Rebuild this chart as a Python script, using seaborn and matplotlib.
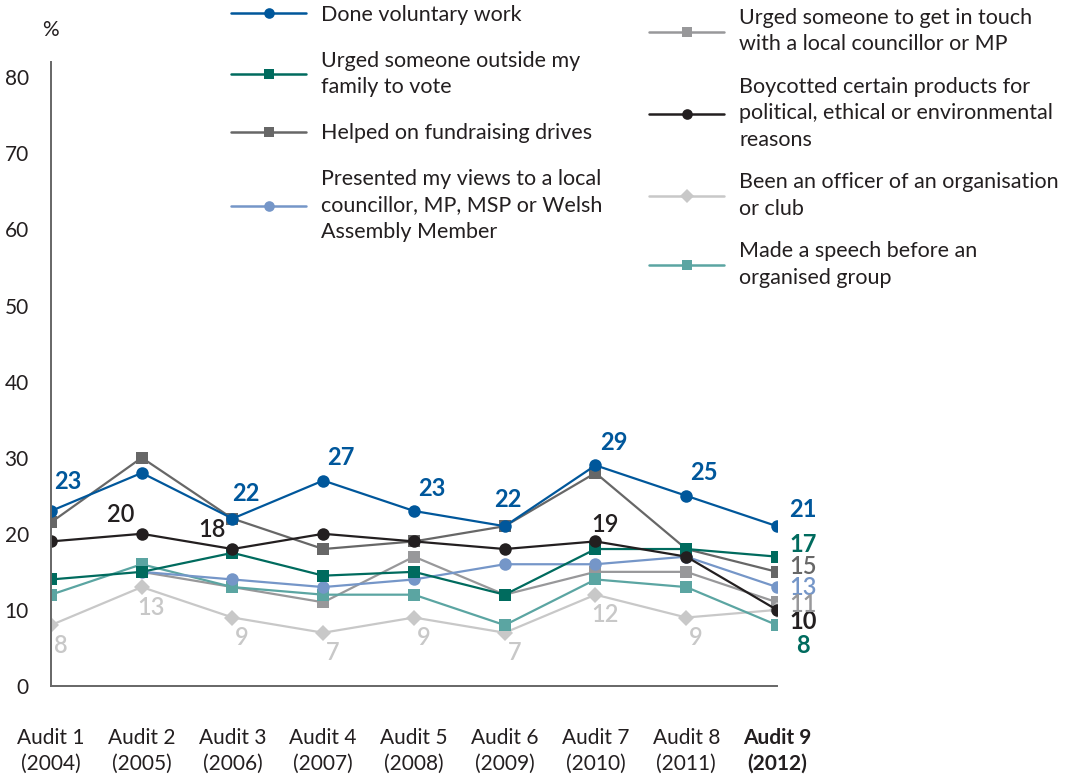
import numpy as np
import pandas as pd
import matplotlib
matplotlib.use("Agg")
import matplotlib.pyplot as plt
from matplotlib.lines import Line2D
import seaborn as sns

# ---------------- DATA ----------------
audits = ["Audit 1\n(2004)", "Audit 2\n(2005)", "Audit 3\n(2006)", "Audit 4\n(2007)",
          "Audit 5\n(2008)", "Audit 6\n(2009)", "Audit 7\n(2010)", "Audit 8\n(2011)",
          "Audit 9\n(2012)"]

voluntary = [23, 28, 22, 27, 23, 21, 29, 25, 21]
urged_vote = [14, 15, 17.5, 14.5, 15, 12, 18, 18, 17]
fundraising = [21.5, 30, 22, 18, 19, 21, 28, 18, 15]
presented = [np.nan, 15, 14, 13, 14, 16, 16, 17, 13]
urged_contact = [np.nan, 15, 13, 11, 17, 12, 15, 15, 11]
boycotted = [19, 20, 18, 20, 19, 18, 19, 17, 10]
officer = [8, 13, 9, 7, 9, 7, 12, 9, 10]
speech = [12, 16, 13, 12, 12, 8, 14, 13, 8]

voluntary_labels = ["23", "", "22", "27", "23", "22", "29", "25", "21"]
boycotted_labels = ["", "20", "18", "", "", "", "19", "", "10"]
officer_labels = ["8", "13", "9", "7", "9", "7", "12", "9", ""]
end_labels = {"urged_vote": "17", "fundraising": "15", "presented": "13",
              "urged_contact": "11", "speech": "8"}

series = [
    ("urged_contact", "Urged someone to get in touch\nwith a local councillor or MP", urged_contact, "#98989a", "s", 8),
    ("officer", "Been an officer of an organisation\nor club", officer, "#c8c8c8", "D", 8),
    ("speech", "Made a speech before an\norganised group", speech, "#5ba5a2", "s", 8.5),
    ("presented", "Presented my views to a local\ncouncillor, MP, MSP or Welsh\nAssembly Member", presented, "#7596c8", "o", 9),
    ("fundraising", "Helped on fundraising drives", fundraising, "#676767", "s", 8.5),
    ("urged_vote", "Urged someone outside my\nfamily to vote", urged_vote, "#006b5e", "s", 8.5),
    ("boycotted", "Boycotted certain products for\npolitical, ethical or environmental\nreasons", boycotted, "#231f20", "o", 9),
    ("voluntary", "Done voluntary work", voluntary, "#00579b", "o", 9),
]
info = {s[0]: s for s in series}

sns.set_style("white")
plt.rcParams['font.family'] = ['Lato', 'DejaVu Sans']

fig = plt.figure(figsize=(10.75, 7.78), dpi=100)
ax = fig.add_axes([51 / 1075, 1 - 686 / 778, (777 - 51) / 1075, (686 - 62) / 778])

x = np.arange(len(audits))
for key, label, vals, color, marker, ms in series:
    df = pd.DataFrame({"x": x, "y": vals}).dropna()
    sns.lineplot(data=df, x="x", y="y", color=color, marker=marker, markersize=ms,
                 markeredgewidth=0, linewidth=1.6, ax=ax, legend=False)

ax.set_xlim(0, 8)
ax.set_ylim(0, 82)
ax.set_yticks(range(0, 81, 10))
ax.set_xticks(x)
ax.set_xticklabels(audits, fontsize=15, color="#231f20", linespacing=1.4)
ax.get_xticklabels()[-1].set_fontweight("bold")
ax.tick_params(axis="x", direction="out", length=10, width=1.4, color="#666666", pad=20)
ax.tick_params(axis="y", length=0, pad=16, labelsize=15, labelcolor="#231f20")
ax.set_xlabel("")
ax.set_ylabel("")
for side in ["top", "right"]:
    ax.spines[side].set_visible(False)
for side in ["left", "bottom"]:
    ax.spines[side].set_color("#666666")
    ax.spines[side].set_linewidth(1.4)

fig.text(50 / 1075, 1 - 30 / 778, "%", fontsize=15, color="#231f20", ha="center", va="center")

# data labels
def put(xi, yi, text, color, dx, dy, weight="bold", ha="center", size=17):
    ax.annotate(text, (xi, yi), xytext=(dx, dy), textcoords="offset points",
                ha=ha, va="center", color=color, fontsize=size, fontweight=weight)

vol_offsets = {0: (12, 21), 2: (9.5, 18), 5: (2, 19)}
for i, t in enumerate(voluntary_labels):
    if not t:
        continue
    if i == 8:
        put(i, voluntary[i], t, "#00579b", 9, 12, ha="left")
    else:
        dx, dy = vol_offsets.get(i, (13, 16.5))
        put(i, voluntary[i], t, "#00579b", dx, dy)

for i, t in enumerate(boycotted_labels):
    if not t:
        continue
    if i == 8:
        put(i, boycotted[i], t, "#231f20", 9, -8.6, ha="left")
    elif i == 6:
        put(i, boycotted[i], t, "#231f20", 7, 12, weight="semibold")
    else:
        put(i, boycotted[i], t, "#231f20", -15, 14, weight="semibold")

for i, t in enumerate(officer_labels):
    if not t:
        continue
    put(i, officer[i], t, "#c8c8c8", 7, -14.5, weight="semibold")

end_offsets = {"urged_vote": (9, 8.6), "fundraising": (9, 3.6), "presented": (9, 0),
               "urged_contact": (9, -1.4), "speech": (18.7, -15)}
for key, t in end_labels.items():
    _, _, vals, color, _, _ = info[key]
    dx, dy = end_offsets[key]
    col = "#006b5e" if key == "speech" else color
    wt = "bold" if key in ("urged_vote", "speech") else "semibold"
    put(8, vals[8], t, col, dx, dy, weight=wt, ha="center" if key == "speech" else "left")

# legend in two columns
col1 = ["voluntary", "urged_vote", "fundraising", "presented"]
col2 = ["urged_contact", "boycotted", "officer", "speech"]
for keys, xh, ytop, spacing in [(col1, 231, 5, 1.2), (col2, 649, 8, 1.05)]:
    handles = []
    labels = []
    for k in keys:
        _, label, _, color, marker, ms = info[k]
        handles.append(Line2D([], [], color=color, marker=marker, markersize=ms * 0.85,
                              markeredgewidth=0, linewidth=1.8))
        labels.append(label)
    leg = fig.legend(handles, labels, loc="upper left",
                     bbox_to_anchor=(xh / 1075, 1 - ytop / 778),
                     frameon=False, fontsize=15.5, handlelength=3.5, handletextpad=0.7,
                     labelspacing=spacing, borderpad=0, borderaxespad=0)
    for txt in leg.get_texts():
        txt.set_color("#231f20")
        txt.set_linespacing(1.4)

fig.savefig("out.png", dpi=100)
